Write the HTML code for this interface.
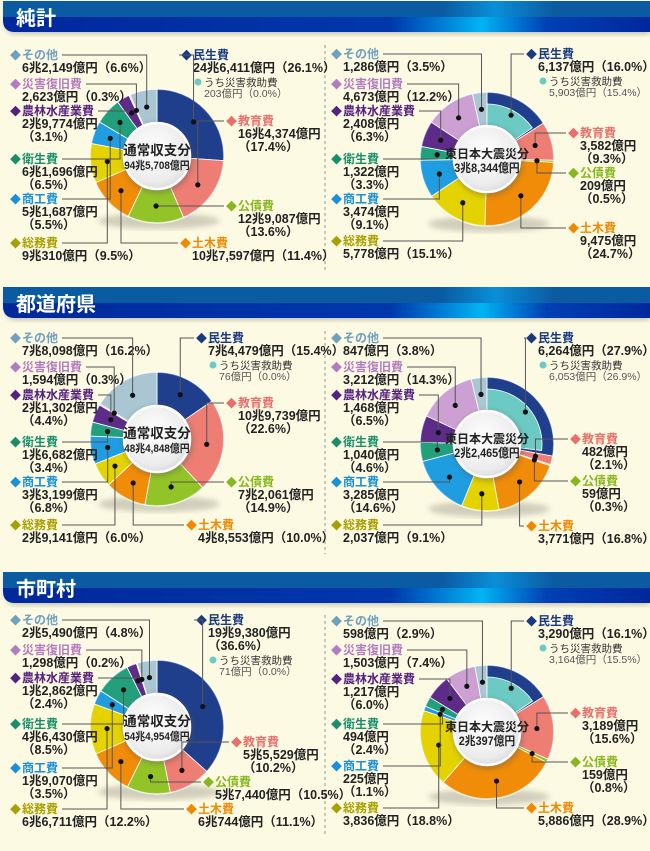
<!DOCTYPE html>
<html><head><meta charset="utf-8">
<style>
html,body{margin:0;padding:0;background:#fdfae4;}
svg{display:block;font-family:"Liberation Sans","Noto Sans CJK JP",sans-serif;}
</style></head>
<body>
<svg id="page" width="650" height="851" viewBox="0 0 650 851" xmlns="http://www.w3.org/2000/svg">
<defs>
<linearGradient id="hdTop" x1="0" x2="1" y1="0" y2="0">
<stop offset="0" stop-color="#0b5ba3"/><stop offset="0.68" stop-color="#0b5ba3"/><stop offset="0.76" stop-color="#0a8fd8"/><stop offset="0.85" stop-color="#0b5ba3"/><stop offset="1" stop-color="#0b5ba3"/>
</linearGradient>
<linearGradient id="hdBot" x1="0" x2="1" y1="0" y2="0">
<stop offset="0" stop-color="#00289c"/><stop offset="0.6" stop-color="#0038ac"/><stop offset="0.74" stop-color="#00b4f4"/><stop offset="0.84" stop-color="#0040b4"/><stop offset="1" stop-color="#00289c"/>
</linearGradient>
<radialGradient id="hub" cx="0.45" cy="0.4" r="0.7">
<stop offset="0" stop-color="#ffffff"/><stop offset="0.7" stop-color="#ececec"/><stop offset="1" stop-color="#cfcfcf"/>
</radialGradient>
<filter id="blur"><feGaussianBlur stdDeviation="3"/></filter>
</defs>
<g id="headers"></g>
<g id="charts"></g>
</svg>
<script>
// ---- data ----
const categories = ['民生費','教育費','公債費','土木費','総務費','商工費','衛生費','農林水産業費','災害復旧費','その他'];
const s1lShares = [26.1,17.4,13.6,11.4,9.5,5.5,6.5,3.1,0.3,6.6];
const s1lAmounts = ['24兆6,411億円','16兆4,374億円','12兆9,087億円','10兆7,597億円','9兆310億円','5兆1,687億円','6兆1,696億円','2兆9,774億円','2,623億円','6兆2,149億円'];
const s1lSubShare = 0.0; const s1lSubAmount = '203億円'; const s1lTotal = '94兆5,708億円';
const s1rShares = [16.0,9.3,0.5,24.7,15.1,9.1,3.3,6.3,12.2,3.5];
const s1rAmounts = ['6,137億円','3,582億円','209億円','9,475億円','5,778億円','3,474億円','1,322億円','2,408億円','4,673億円','1,286億円'];
const s1rSubShare = 15.4; const s1rSubAmount = '5,903億円'; const s1rTotal = '3兆8,344億円';
const s2lShares = [15.4,22.6,14.9,10.0,6.0,6.8,3.4,4.4,0.3,16.2];
const s2lAmounts = ['7兆4,479億円','10兆9,739億円','7兆2,061億円','4兆8,553億円','2兆9,141億円','3兆3,199億円','1兆6,682億円','2兆1,302億円','1,594億円','7兆8,098億円'];
const s2lSubShare = 0.0; const s2lSubAmount = '76億円'; const s2lTotal = '48兆4,848億円';
const s2rShares = [27.9,2.1,0.3,16.8,9.1,14.6,4.6,6.5,14.3,3.8];
const s2rAmounts = ['6,264億円','482億円','59億円','3,771億円','2,037億円','3,285億円','1,040億円','1,468億円','3,212億円','847億円'];
const s2rSubShare = 26.9; const s2rSubAmount = '6,053億円'; const s2rTotal = '2兆2,465億円';
const s3lShares = [36.6,10.2,10.5,11.1,12.2,3.5,8.5,2.4,0.2,4.8];
const s3lAmounts = ['19兆9,380億円','5兆5,529億円','5兆7,440億円','6兆744億円','6兆6,711億円','1兆9,070億円','4兆6,430億円','1兆2,862億円','1,298億円','2兆5,490億円'];
const s3lSubShare = 0.0; const s3lSubAmount = '71億円'; const s3lTotal = '54兆4,954億円';
const s3rShares = [16.1,15.6,0.8,28.9,18.8,1.1,2.4,6.0,7.4,2.9];
const s3rAmounts = ['3,290億円','3,189億円','159億円','5,886億円','3,836億円','225億円','494億円','1,217億円','1,503億円','598億円'];
const s3rSubShare = 15.5; const s3rSubAmount = '3,164億円'; const s3rTotal = '2兆397億円';
const sectionTitles = ['純計','都道府県','市町村'];

// ---- styles ----
const sliceColors = ['#1f3f8c','#ee7e73','#93c427','#f08c08','#e4d300','#1f9de0','#22a07b','#5d2c88','#cda0d3','#a9c6d2'];
const labelColors = ['#1a3a80','#e8706a','#86b81e','#f08800','#a8a000','#1a90d8','#17906a','#56207e','#b47cc0','#6fa0bc'];
const subColor = '#6ccac4';
const NS = 'http://www.w3.org/2000/svg';
function el(tag, attrs, parent){const e=document.createElementNS(NS,tag);for(const k in attrs)e.setAttribute(k,attrs[k]);if(parent)parent.appendChild(e);return e;}

// headers & panels
const headerY=[1,287,572];
const panelY=[[35,278],[321,562],[605,845]];
const hg=document.getElementById('headers');
headerY.forEach((y,i)=>{
  const g=el('g',{},hg);
  
  
  el('path',{d:`M5 ${y+3} H650 V${y+33} H17 Q5 ${y+33} 5 ${y+21} Z`,fill:'#8a8a7a',opacity:0.5,filter:'url(#blur)'},g);
  el('path',{d:`M3 ${y} H650 V${y+16} H3 Z`,fill:'url(#hdTop)'},g);
  el('path',{d:`M3 ${y+16} H650 V${y+31} H15 Q3 ${y+31} 3 ${y+19} Z`,fill:'url(#hdBot)'},g);
  const t=el('text',{x:16,y:y+24,fill:'#fff','font-size':20,'font-weight':'bold'},g);
  t.textContent=sectionTitles[i];
  
  
  const d=el('line',{x1:325,x2:325,y1:panelY[i][0]+10,y2:panelY[i][1]-8,stroke:'#a8a8a0','stroke-width':1.2,'stroke-dasharray':'3,3'},g);
  
  
});

// layout: per chart [x,y,split]
const leftL=(ys,x)=>ys.map(v=>[x,v[0],v[1]]);
const charts=[
 {id:'s1l',shares:s1lShares,amounts:s1lAmounts,sub:s1lSubShare,subAmt:s1lSubAmount,total:s1lTotal,title:'通常収支分',cx:157,cy:156,
  pos:[[183,59,0],[228,125,1],[228,210,1],[182,247,0],[12,247,0],[12,203,1],[12,163,1],[12,115,1],[12,88,0],[12,59,0]]},
 {id:'s1r',shares:s1rShares,amounts:s1rAmounts,sub:s1rSubShare,subAmt:s1rSubAmount,total:s1rTotal,title:'東日本大震災分',cx:487,cy:159,
  pos:[[528,58,0],[570,137,1],[570,177,1],[570,232,1],[333,245,0],[333,203,1],[333,163,1],[333,115,1],[333,88,0],[333,58,0]]},
 {id:'s2l',shares:s2lShares,amounts:s2lAmounts,sub:s2lSubShare,subAmt:s2lSubAmount,total:s2lTotal,title:'通常収支分',cx:157,cy:439,
  pos:[[198,342,0],[228,407,1],[228,486,1],[188,529,0],[12,529,0],[12,486,1],[12,446,1],[12,399,1],[12,371,0],[12,342,0]]},
 {id:'s2r',shares:s2rShares,amounts:s2rAmounts,sub:s2rSubShare,subAmt:s2rSubAmount,total:s2rTotal,title:'東日本大震災分',cx:487,cy:444,
  pos:[[528,342,0],[572,443,1],[572,485,1],[528,530,0],[333,529,0],[333,486,1],[333,446,1],[333,399,1],[333,371,0],[333,342,0]]},
 {id:'s3l',shares:s3lShares,amounts:s3lAmounts,sub:s3lSubShare,subAmt:s3lSubAmount,total:s3lTotal,title:'通常収支分',cx:157,cy:727,
  pos:[[198,624,1],[233,746,1],[205,786,0],[188,813,0],[12,813,0],[12,772,1],[12,728,1],[12,682,1],[12,654,0],[12,624,0]]},
 {id:'s3r',shares:s3rShares,amounts:s3rAmounts,sub:s3rSubShare,subAmt:s3rSubAmount,total:s3rTotal,title:'東日本大震災分',cx:487,cy:732,
  pos:[[528,625,0],[572,717,1],[572,766,1],[528,812,0],[333,812,0],[333,770,1],[333,728,1],[333,683,1],[333,654,0],[333,625,0]]}
];
const R_OUT=67,R_IN=30,R_DOT=50;
function pt(cx,cy,a,r){return [cx+r*Math.sin(a),cy-r*Math.cos(a)];}
function arc(cx,cy,a0,a1,ri,ro){
  const la=(a1-a0)>Math.PI?1:0;
  const p0=pt(cx,cy,a0,ro),p1=pt(cx,cy,a1,ro),p2=pt(cx,cy,a1,ri),p3=pt(cx,cy,a0,ri);
  return `M${p0[0]},${p0[1]} A${ro},${ro} 0 ${la} 1 ${p1[0]},${p1[1]} L${p2[0]},${p2[1]} A${ri},${ri} 0 ${la} 0 ${p3[0]},${p3[1]} Z`;
}
const cg=document.getElementById('charts');
charts.forEach(c=>{
  const g=el('g',{},cg);
  
  
  el('ellipse',{cx:c.cx+2,cy:c.cy+R_OUT-2,rx:R_OUT-6,ry:8,fill:'#9a9a88',opacity:0.45,filter:'url(#blur)'},g);
  const total=c.shares.reduce((a,b)=>a+b,0);
  let acc=0;const mids=[];
  c.shares.forEach((s,i)=>{
    const a0=acc/total*2*Math.PI;acc+=s;const a1=acc/total*2*Math.PI;
    mids.push((a0+a1)/2);
    if(s<=0)return;
    const p=el('path',{d:arc(c.cx,c.cy,a0,a1,R_IN,R_OUT),fill:sliceColors[i],stroke:'#fff','stroke-width':0.8},g);
    
    
  });
  if(c.sub>0){
    const a1=c.sub/total*2*Math.PI;
    const p=el('path',{d:arc(c.cx,c.cy,0,a1,R_IN,55),fill:subColor,stroke:'#fff','stroke-width':0.8},g);
    
    
  }
  el('circle',{cx:c.cx,cy:c.cy,r:R_OUT,fill:'none',stroke:'#ffffff','stroke-opacity':0.35,'stroke-width':2},g);
  el('circle',{cx:c.cx+1,cy:c.cy+2,r:35,fill:'#555',opacity:0.4,filter:'url(#blur)'},g);
  const hub=el('circle',{cx:c.cx,cy:c.cy,r:33,fill:'url(#hub)',stroke:'#fff','stroke-width':2.5},g);
  
  
  const big=c.title.length>5;
  const t1=el('text',{x:c.cx,y:c.cy-1,'text-anchor':'middle','font-size':big?12:13.5,'font-weight':'bold',fill:'#222'},g);
  t1.textContent=c.title;
  
  
  const t2=el('text',{x:c.cx,y:c.cy+13,'text-anchor':'middle','font-size':big?12:11,'font-weight':'bold',fill:'#222',transform:`translate(${c.cx},0) scale(0.9,1) translate(${-c.cx},0)`},g);
  t2.textContent=c.total;
  
  

  // labels
  const lg=el('g',{},cg);
  c.shares.forEach((s,i)=>{
    const [x,y,split]=c.pos[i];
    const right=i<4;
    const lab=el('g',{},lg);
    
    
    const dm=el('text',{x:x-2,y:y,'font-size':11,fill:labelColors[i]},lab);dm.textContent='◆';
    const tt=el('text',{x:x+10,y:y,'font-size':12,'font-weight':'bold',fill:labelColors[i]},lab);tt.textContent=categories[i];
    const pct='（'+s.toFixed(1)+'%）';
    const lines=split?[c.amounts[i],pct]:[c.amounts[i]+pct];
    let ly=y;
    lines.forEach(l=>{ly+=13;const v=el('text',{x:x+10,y:ly,'font-size':12.5,'font-weight':'bold',fill:'#222'},lab);v.textContent=l;});
    if(i===0){
      el('circle',{cx:x+15,cy:ly+10,r:3.5,fill:subColor},lab);
      const s1=el('text',{x:x+21,y:ly+14,'font-size':10.5,fill:'#333'},lab);s1.textContent='うち災害救助費';
      const s2=el('text',{x:x+21,y:ly+25,'font-size':10.5,fill:'#555'},lab);s2.textContent=c.subAmt+'（'+c.sub.toFixed(1)+'%）';
    }
    const dp=pt(c.cx,c.cy,mids[i],R_DOT);
    let sx;
    if(right){sx=x-4;}else{sx=x+10+tt.getComputedTextLength()+4;}
    const ldr=el('path',{d:`M${sx},${y-4} H${dp[0]} V${dp[1]}`,fill:'none',stroke:'#555','stroke-width':1},lg);
    
    
    const dot=el('circle',{cx:dp[0],cy:dp[1],r:2.6,fill:'#111'},lg);
    
    
  });
});
</script>
</body></html>
